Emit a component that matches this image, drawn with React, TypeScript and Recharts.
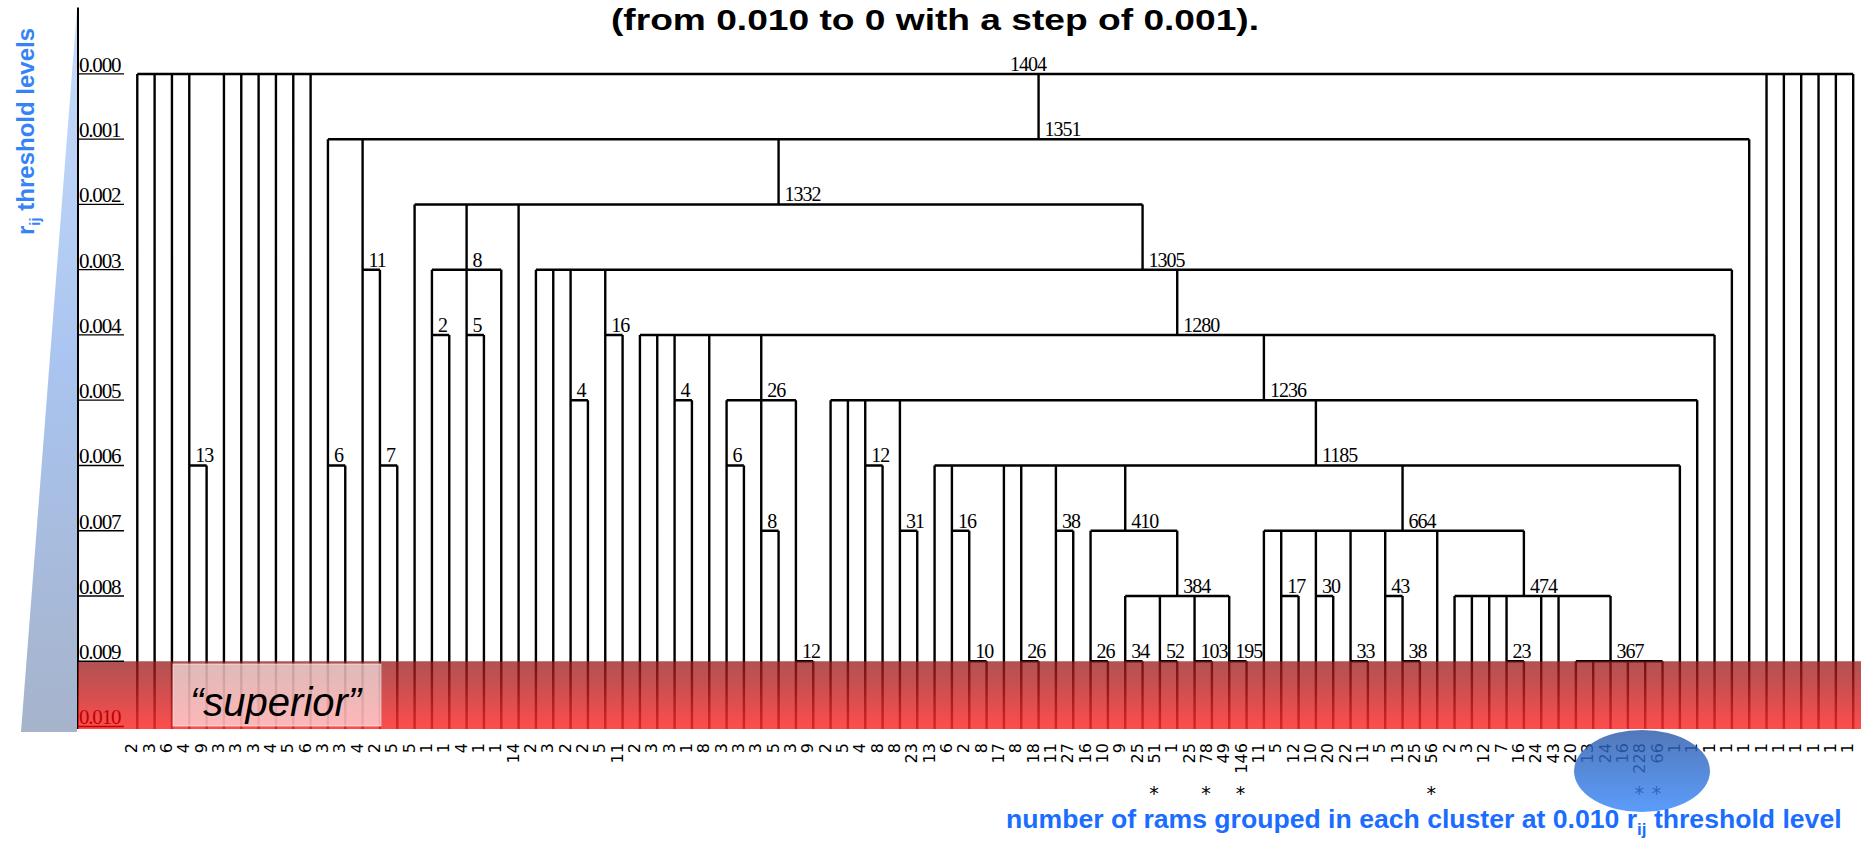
import React from "react";
import { ComposedChart, Line, Scatter, XAxis, YAxis, ReferenceArea } from "recharts";

// number of rams in each cluster at the 0.010 level, left to right
const leafSizes = [
  2, 3, 6, 4, 9, 3, 3, 3, 4, 5,
  6, 3, 3, 4, 2, 5, 5, 1, 1, 4,
  1, 1, 14, 2, 3, 2, 2, 5, 11, 2,
  3, 3, 1, 8, 3, 3, 3, 5, 3, 9,
  2, 5, 4, 8, 8, 23, 13, 6, 2, 8,
  17, 8, 18, 11, 27, 16, 10, 9, 25, 51,
  1, 25, 78, 49, 146, 11, 5, 12, 10, 20,
  22, 11, 5, 13, 25, 56, 2, 3, 12, 7,
  16, 24, 43, 20, 13, 24, 16, 228, 66, 1,
  1, 1, 1, 1, 1, 1, 1, 1, 1, 1,
];

// leaves marked with an asterisk
const starredLeaves = [59, 62, 64, 75, 87, 88];

// r_ij threshold levels on the axis
const levelTicks = [0, 0.001, 0.002, 0.003, 0.004, 0.005, 0.006, 0.007, 0.008, 0.009, 0.01];

type Ref = number | string;

// id, cluster size label, r_ij level of the join, members (leaf index or id)
// listed bottom-up so members come before the cluster that holds them
const merges: [string, string, number, Ref[]][] = [
  ["m13", "13", 0.006, [3, 4]],
  ["m6a", "6", 0.006, [11, 12]],
  ["m7", "7", 0.006, [14, 15]],
  ["m11", "11", 0.003, [13, "m7"]],
  ["m2", "2", 0.004, [17, 18]],
  ["m5", "5", 0.004, [19, 20]],
  ["m8a", "8", 0.003, ["m2", "m5", 21]],
  ["m4a", "4", 0.005, [25, 26]],
  ["m16a", "16", 0.004, [27, 28]],
  ["m4b", "4", 0.005, [31, 32]],
  ["m6b", "6", 0.006, [34, 35]],
  ["m8b", "8", 0.007, [36, 37]],
  ["m12a", "12", 0.009, [38, 39]],
  ["m26a", "26", 0.005, ["m6b", "m8b", "m12a"]],
  ["m12b", "12", 0.006, [42, 43]],
  ["m31", "31", 0.007, [44, 45]],
  ["m10", "10", 0.009, [48, 49]],
  ["m16b", "16", 0.007, [47, "m10"]],
  ["m26b", "26", 0.009, [51, 52]],
  ["m38a", "38", 0.007, [53, 54]],
  ["m26c", "26", 0.009, [55, 56]],
  ["m34", "34", 0.009, [57, 58]],
  ["m52", "52", 0.009, [59, 60]],
  ["m103", "103", 0.009, [61, 62]],
  ["m195", "195", 0.009, [63, 64]],
  ["m384", "384", 0.008, ["m34", "m52", "m103", "m195"]],
  ["m410", "410", 0.007, ["m26c", "m384"]],
  ["m17", "17", 0.008, [66, 67]],
  ["m30", "30", 0.008, [68, 69]],
  ["m33", "33", 0.009, [70, 71]],
  ["m38b", "38", 0.009, [73, 74]],
  ["m43", "43", 0.008, [72, "m38b"]],
  ["m23", "23", 0.009, [79, 80]],
  ["m367", "367", 0.009, [83, 84, 85, 86, 87, 88]],
  ["m474", "474", 0.008, [76, 77, 78, "m23", 81, 82, "m367"]],
  ["m664", "664", 0.007, [65, "m17", "m30", "m33", "m43", 75, "m474"]],
  ["m1185", "1185", 0.006, [46, "m16b", 50, "m26b", "m38a", "m410", "m664", 89]],
  ["m1236", "1236", 0.005, [40, 41, "m12b", "m31", "m1185", 90]],
  ["m1280", "1280", 0.004, [29, 30, "m4b", 33, "m26a", "m1236", 91]],
  ["m1305", "1305", 0.003, [23, 24, "m4a", "m16a", "m1280", 92]],
  ["m1332", "1332", 0.002, [16, "m8a", 22, "m1305"]],
  ["m1351", "1351", 0.001, ["m6a", "m11", "m1332", 93]],
  ["root", "1404", 0, [0, 1, 2, "m13", 5, 6, 7, 8, 9, 10, "m1351", 94, 95, 96, 97, 98, 99]],
];

const W = 1867;
const H = 843;
const PLOT_LEFT = 78;
const BASE = 0.01004; // foot of the leaves / bottom of the band
const TOP = -0.00102;
const X_MIN = -3.42;
const X_MAX = 99.45;

// where each cluster's stem sits and its level
const nodeX: Record<string, number> = {};
const nodeLevel: Record<string, number> = {};
const xOf = (r: Ref) => (typeof r === "number" ? r : nodeX[r]);
const levelOf = (r: Ref) => (typeof r === "number" ? BASE : nodeLevel[r]);

type Pt = { x: number; y: number | null };
const branchPts: Pt[] = [];
const seg = (x1: number, y1: number, x2: number, y2: number) => {
  branchPts.push({ x: x1, y: y1 }, { x: x2, y: y2 }, { x: x2, y: null });
};

const labelPts: { x: number; y: number; label: string }[] = [];

merges.forEach(([id, label, level, kids]) => {
  const xs = kids.map(xOf);
  const lo = Math.min(...xs);
  const hi = Math.max(...xs);
  const mid = (lo + hi) / 2;
  nodeX[id] = hi - lo >= 10 ? Math.round(mid) : Math.floor(mid);
  nodeLevel[id] = level;
  seg(lo, level, hi, level);
  kids.forEach((k) => seg(xOf(k), levelOf(k), xOf(k), level));
  labelPts.push({ x: nodeX[id], y: level, label });
});

const leafIdx = leafSizes.map((_, i) => i);

const NodeLabel = (p: any) => (
  <text
    x={p.cx + 6}
    y={p.cy - 3}
    fontFamily="Liberation Serif, serif"
    fontSize={20}
    letterSpacing={-1}
    fill="#000"
  >
    {p.payload.label}
  </text>
);

const LeafTick = (p: any) => {
  const i = p.payload.value;
  return (
    <g>
      <text
        transform={`translate(${p.x},${p.y + 14}) rotate(-90)`}
        textAnchor="end"
        fontFamily="DejaVu Sans, sans-serif"
        fontSize={16}
        fill="#000"
      >
        {leafSizes[i]}
      </text>
      {starredLeaves.includes(i) && (
        <text
          x={p.x - 6}
          y={p.y + 71}
          textAnchor="middle"
          fontFamily="DejaVu Sans, sans-serif"
          fontSize={19}
          fill="#000"
        >
          *
        </text>
      )}
    </g>
  );
};

const LevelTick = (p: any) => {
  const v = p.payload.value;
  const col = v === 0.01 ? "#c00000" : "#000";
  return (
    <g>
      <line x1={PLOT_LEFT} x2={PLOT_LEFT + 46} y1={p.y} y2={p.y} stroke={col} strokeWidth={1.3} />
      <text
        x={PLOT_LEFT + 1}
        y={p.y - 2}
        fontFamily="Liberation Serif, serif"
        fontSize={21}
        letterSpacing={-1.2}
        fill={col}
      >
        {v.toFixed(3)}
      </text>
    </g>
  );
};

const App: React.FC = () => {
  return (
    <div style={{ position: "absolute", left: 0, top: 0, width: W, height: H, overflow: "hidden" }}>
      <ComposedChart width={W} height={H} margin={{ top: 7.4, right: 6, bottom: 3.9, left: 77 }}>
        <XAxis
          dataKey="x"
          type="number"
          domain={[X_MIN, X_MAX]}
          allowDataOverflow
          ticks={leafIdx}
          interval={0}
          tick={LeafTick}
          tickLine={false}
          axisLine={false}
          tickSize={0}
          tickMargin={0}
          height={110}
        />
        <YAxis
          dataKey="y"
          type="number"
          domain={[TOP, BASE]}
          reversed
          allowDataOverflow
          ticks={levelTicks}
          interval={0}
          tick={LevelTick}
          tickLine={false}
          tickSize={0}
          axisLine={{ stroke: "#000", strokeWidth: 2 }}
          width={1}
        />
        <Line
          data={branchPts}
          dataKey="y"
          stroke="#000"
          strokeWidth={2.4}
          dot={false}
          activeDot={false}
          connectNulls={false}
          isAnimationActive={false}
        />
        <Scatter data={labelPts} dataKey="y" shape={NodeLabel} isAnimationActive={false} />
        <ReferenceArea
          x1={X_MIN}
          x2={X_MAX}
          y1={0.009}
          y2={BASE}
          fill="url(#bandFill)"
          fillOpacity={1}
          stroke="none"
          zIndex={1500}
        />
      </ComposedChart>

      <svg
        width={W}
        height={H}
        style={{ position: "absolute", left: 0, top: 0, pointerEvents: "none" }}
      >
        <defs>
          <linearGradient id="bandFill" x1="0" y1="0" x2="0" y2="1">
            <stop offset="0" stopColor="rgb(150,25,25)" stopOpacity={0.75} />
            <stop offset="1" stopColor="rgb(255,45,45)" stopOpacity={0.85} />
          </linearGradient>
          <linearGradient id="wedgeFill" x1="0" y1="0" x2="0" y2="1">
            <stop offset="0" stopColor="#c8ddfb" />
            <stop offset="0.5" stopColor="#a9c4ef" />
            <stop offset="1" stopColor="#a6b3cb" />
          </linearGradient>
          <linearGradient id="ovalFill" x1="0" y1="0" x2="0" y2="1">
            <stop offset="0" stopColor="rgb(45,90,170)" stopOpacity={0.82} />
            <stop offset="1" stopColor="rgb(55,135,250)" stopOpacity={0.82} />
          </linearGradient>
        </defs>

        <polygon points="77,8 77,732 21,732" fill="url(#wedgeFill)" />

        <text
          x={935}
          y={30}
          textAnchor="middle"
          fontFamily="Liberation Sans, Arial, sans-serif"
          fontWeight="bold"
          fontSize={30}
          textLength={648}
          lengthAdjust="spacingAndGlyphs"
          fill="#000"
        >
          (from 0.010 to 0 with a step of 0.001).
        </text>

        <text
          transform="translate(34,235) rotate(-90)"
          fontFamily="Liberation Sans, Arial, sans-serif"
          fontWeight="bold"
          fontSize={24}
          fill="#3583f6"
        >
          r<tspan fontSize={15} dy={6}>ij</tspan>
          <tspan dy={-6}> threshold levels</tspan>
        </text>

        <text
          x={1006}
          y={828}
          fontFamily="Liberation Sans, Arial, sans-serif"
          fontWeight="bold"
          fontSize={26.6}
          fill="#1a6dff"
        >
          number of rams grouped in each cluster at 0.010 r<tspan fontSize={17} dy={7}>ij</tspan>
          <tspan dy={-7}> threshold level</tspan>
        </text>

        <rect x={173} y={664} width={208} height={62} fill="#fff" fillOpacity={0.6} stroke="#fff" strokeOpacity={0.6} />
        <text
          x={190}
          y={716}
          fontFamily="Liberation Sans, Arial, sans-serif"
          fontStyle="italic"
          fontSize={40}
          fill="#000"
        >
          “superior”
        </text>

        <ellipse cx={1642} cy={771} rx={68} ry={41} fill="url(#ovalFill)" />
      </svg>
    </div>
  );
};

export default App;
